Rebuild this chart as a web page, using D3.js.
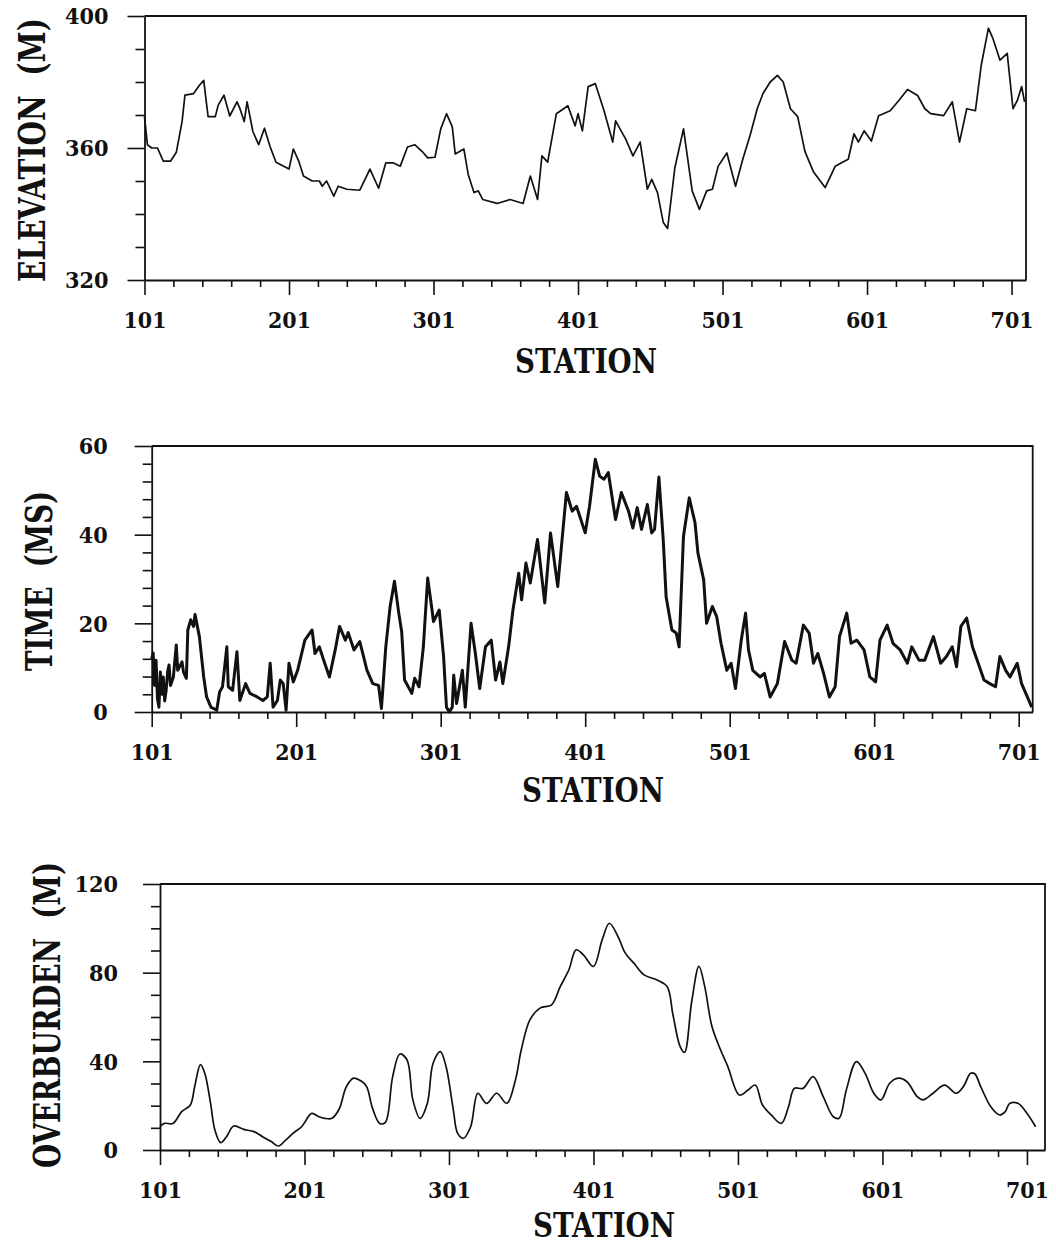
<!DOCTYPE html>
<html>
<head>
<meta charset="utf-8">
<script src="https://cdn.jsdelivr.net/npm/d3@7"></script>
<style>
  body { margin: 0; background: #fff; }
  svg { display: block; font-family: "DejaVu Serif", serif; font-weight: bold; }
</style>
</head>
<body>
<svg id="chart"></svg>
<script>
// ---- data ----
const stationTicks = [101, 201, 301, 401, 501, 601, 701];
const stationMinor = [121, 141, 161, 181, 221, 241, 261, 281, 321, 341, 361, 381,
  421, 441, 461, 481, 521, 541, 561, 581, 621, 641, 661, 681];

const elevTicks = [320, 360, 400];
const elevMinor = [330, 340, 350, 370, 380, 390];
const timeTicks = [0, 20, 40, 60];
const timeMinor = [4, 8, 12, 16, 24, 28, 32, 36, 44, 48, 52, 56];
const overTicks = [0, 40, 80, 120];
const overMinor = [10, 20, 30, 50, 60, 70, 90, 100, 110];

const elevStation = [101, 103, 106, 110, 114, 119, 123, 127, 129, 135, 139, 142, 145, 150, 152, 156, 160, 165, 167, 170,
  172, 176, 180, 184, 188, 192, 196, 201, 204, 208, 211, 217, 222, 224, 227, 232, 235, 241, 250, 257,
  263, 268, 273, 278, 283, 288, 293, 297, 302, 306, 310, 314, 316, 322, 325, 329, 332, 335, 345, 354,
  363, 368, 373, 376, 380, 386, 394, 399, 401, 404, 408, 413, 419, 425, 427, 434, 439, 444, 449, 452,
  456, 460, 463, 468, 474, 480, 485, 490, 494, 498, 504, 510, 515, 520, 525, 529, 534, 539, 543, 548,
  553, 558, 564, 572, 579, 584, 588, 592, 595, 599, 604, 609, 617, 623, 629, 636, 641, 645, 654, 660,
  665, 670, 676, 680, 685, 688, 693, 698, 702, 705, 708, 710];
const elevValue = [369.5, 361, 360, 360, 356, 356, 358.7, 368, 376, 376.5, 379, 380.5, 369.5, 369.5, 373, 376, 369.7, 374, 372, 368,
  374, 365, 361, 366, 360.3, 355.7, 354.8, 353.6, 359.7, 355.7, 351.5, 350, 350, 348.4, 350, 345.4, 348.4, 347.5, 347.2, 353.6,
  347.8, 355.5, 355.5, 354.5, 360.3, 361, 359, 357, 357.2, 365.8, 370.4, 366.4, 358.2, 359.7, 352, 346.5, 347, 344.4, 343.2, 344.4,
  343.2, 351.5, 344.4, 357.6, 355.7, 370.4, 372.8, 366.7, 370.4, 365.2, 378.6, 379.5, 371.3, 361.8, 368.2, 362.7, 357.6, 361.8, 347.5, 350.5,
  346.5, 337.4, 335.6, 354, 365.8, 347, 341.4, 347, 347.5, 354.5, 358.5, 348.4, 356.6, 363.7, 371.9, 376.5, 380, 382, 380, 371.9,
  369.5, 359, 352.7, 348, 354.5, 355.7, 356.6, 364.3, 361.8, 365.2, 362.1, 369.8, 371.3, 374.4, 377.7, 375.9, 371.9, 370.4, 369.8, 374,
  361.8, 371.9, 371.3, 385, 396.3, 393.3, 386.6, 388.7, 371.9, 374.4, 378.6, 374];

const timeStation = [101, 102, 103, 104, 105, 106, 107, 108, 109, 110, 111, 112, 113, 114, 116, 118, 119, 122, 123, 125,
  126, 128, 130, 131, 134, 137, 139, 142, 146, 148, 150, 153, 154, 157, 160, 162, 166, 169, 174, 178,
  181, 183, 185, 188, 190, 192, 194, 196, 199, 202, 207, 212, 214, 217, 220, 224, 228, 231, 235, 237,
  241, 245, 250, 254, 258, 260, 263, 266, 269, 272, 274, 276, 281, 283, 286, 289, 292, 295, 296, 300,
  303, 305, 307, 309, 310, 312, 316, 318, 322, 325, 328, 332, 336, 339, 342, 344, 348, 351, 355, 357,
  360, 363, 368, 373, 377, 382, 385, 388, 392, 395, 401, 404, 408, 411, 414, 417, 422, 426, 431, 434,
  437, 440, 444, 447, 449, 452, 455, 457, 461, 464, 466, 469, 473, 477, 479, 483, 485, 489, 492, 495,
  499, 502, 505, 509, 512, 514, 517, 522, 525, 529, 534, 539, 544, 547, 552, 556, 559, 562, 566, 570,
  574, 577, 582, 585, 589, 594, 598, 602, 605, 610, 614, 619, 624, 627, 632, 636, 642, 647, 651, 655,
  658, 661, 665, 669, 673, 677, 681, 685, 688, 692, 695, 700, 703, 707, 710];
const timeValue = [12, 13.3, 6, 11.7, 3, 1.1, 9, 4, 7.9, 2.5, 4.9, 9, 10.6, 6, 7.9, 15.1, 9.4, 11.3, 9, 7.6,
  18.5, 20.8, 19.3, 22, 17, 7.9, 3.4, 1.1, 0.4, 4.5, 5.7, 14.7, 5.7, 4.9, 13.6, 2.6, 6.4, 4.2, 3.4, 2.6,
  3.4, 11, 1.1, 2.6, 7.2, 6.4, 0.4, 11, 6.8, 9.4, 16.2, 18.5, 13.2, 14.7, 11.7, 7.9, 14, 19.3, 16.2, 17.9,
  14, 15.9, 9.4, 6.4, 6, 0.8, 14.7, 23.8, 29.5, 22.3, 18.1, 7.2, 4.2, 7.6, 5.7, 14.7, 30.2, 23, 20.4, 23,
  12.5, 1.1, 0, 1.1, 8.3, 1.9, 9.4, 1.1, 20, 13.2, 5.3, 14.7, 16.2, 7.2, 11.3, 6.4, 14.7, 23, 31.3, 25.3,
  33.6, 29.1, 38.9, 24.6, 40.4, 28.3, 38.9, 49.5, 45.3, 46.4, 40.4, 46.4, 57, 53.2, 52.5, 54, 43.4, 49.5, 45.3, 41.5,
  46.1, 41.2, 46.8, 40.4, 41.2, 53, 38.9, 26, 18.5, 17.8, 14.7, 39.6, 48.3, 42.7, 35.9, 29.8, 20, 23.8, 21.5, 15.5,
  9.4, 11, 5.3, 16.2, 22.3, 14, 9.4, 7.9, 8.7, 3.4, 6.4, 15.9, 11.7, 11, 19.6, 17.8, 11, 13.2, 8.7, 3.4,
  5.7, 17, 22.3, 15.5, 16.2, 14, 7.9, 6.8, 16.2, 19.6, 15.5, 14, 11, 14.7, 11.7, 11.7, 17, 11, 12.5, 14.7,
  10.2, 19.3, 21.2, 14.7, 11, 7.2, 6.4, 5.7, 12.5, 9.4, 7.9, 11, 6.4, 3.4, 1.1];

const overStation = [101, 104, 110, 116, 122, 125, 129, 132, 136, 139, 143, 147, 152, 159, 166, 172, 178, 183, 188, 193,
  199, 206, 211, 215, 220, 225, 230, 235, 240, 244, 248, 253, 257, 262, 267, 272, 276, 281, 286, 290,
  295, 299, 304, 307, 311, 316, 321, 327, 334, 341, 347, 351, 357, 364, 372, 378, 384, 389, 394, 401,
  407, 412, 418, 423, 429, 436, 445, 452, 456, 461, 464, 469, 474, 478, 483, 489, 494, 502, 508, 513,
  518, 524, 531, 536, 540, 546, 553, 560, 567, 571, 576, 583, 589, 595, 600, 606, 612, 618, 625, 629,
  636, 644, 652, 657, 662, 665, 669, 676, 682, 686, 689, 695, 701, 707];
const overValue = [10.5, 12, 12, 17.3, 20.3, 28.6, 38.5, 34.6, 21, 9, 3.3, 6, 10.8, 9.3, 8.3, 6, 3.8, 1.8, 4.5, 7.5,
  10.5, 16.5, 15, 14.3, 14.3, 18.5, 28.6, 32.4, 31.2, 28.6, 19, 12, 12.5, 33, 43.3, 40.6, 22.6, 14.3, 21, 39.1,
  44.4, 37.6, 18.1, 7.5, 5.3, 10.5, 25.6, 21, 25.6, 21, 31.6, 45.1, 58.7, 64, 65.5, 73.7, 81.3, 90.3, 88, 82.8,
  94.8, 102.3, 96.3, 88.8, 84.3, 79, 76.7, 73.7, 61, 46.6, 44, 67, 82.8, 73.7, 55.7, 45.1, 37.6, 24.8, 27.1, 29.3,
  20.3, 15.8, 12, 19.5, 27.8, 27.8, 33.1, 24.1, 15, 14.3, 27.1, 39.9, 34.6, 25.6, 22.6, 30.1, 32.4, 30.8, 24.1, 22.6,
  25.6, 29.3, 25.6, 28.6, 34.6, 34.3, 28.6, 19.5, 15.8, 17.3, 21, 21, 16.6, 10.5];

// ---- layout ----
const svg = d3.select("#chart").attr("width", 1056).attr("height", 1246);
const ink = "#111";

// squeeze a text horizontally (in its own frame) to a target width
function fitText(sel, target, base) {
  const w = sel.node().getComputedTextLength();
  const k = Math.min(1, target / w);
  sel.attr("transform", `${base} scale(${k},1)`);
}

const panels = [
  { title: "ELEVATION  (M)", st: elevStation, val: elevValue, yTicks: elevTicks, yMinor: elevMinor,
    yDom: [320, 400], left: 144.5, right: 1026, top: 16, bottom: 280, xEnd: 711,
    labelGap: 36, titleX: 45, titleY: 150, titleLen: 264, stationX: 586, stationY: 373,
    curve: d3.curveLinear, lw: 1.7 },
  { title: "TIME  (MS)", st: timeStation, val: timeValue, yTicks: timeTicks, yMinor: timeMinor,
    yDom: [0, 60], left: 151.7, right: 1032.7, top: 446, bottom: 712, xEnd: 710.7,
    labelGap: 44, titleX: 52, titleY: 581, titleLen: 180, stationX: 593, stationY: 802,
    curve: d3.curveLinear, lw: 3 },
  { title: "OVERBURDEN  (M)", st: overStation, val: overValue, yTicks: overTicks, yMinor: overMinor,
    yDom: [0, 120], left: 160, right: 1045, top: 884, bottom: 1150, xEnd: 713.5,
    labelGap: 42, titleX: 60, titleY: 1015, titleLen: 306, stationX: 604, stationY: 1237,
    curve: d3.curveCatmullRom, lw: 1.7 }
];

panels.forEach(p => {
  const x = d3.scaleLinear().domain([101, p.xEnd]).range([p.left, p.right]);
  const y = d3.scaleLinear().domain(p.yDom).range([p.bottom, p.top]);
  const g = svg.append("g");

  // minor ticks
  g.append("g")
    .attr("transform", `translate(0,${p.bottom})`)
    .call(d3.axisBottom(x).tickValues(stationMinor).tickSize(7).tickFormat(""))
    .call(a => a.select(".domain").remove());
  g.append("g")
    .attr("transform", `translate(${p.left},0)`)
    .call(d3.axisLeft(y).tickValues(p.yMinor).tickSize(9).tickFormat(""))
    .call(a => a.select(".domain").remove());

  // major axes
  const xa = g.append("g")
    .attr("transform", `translate(0,${p.bottom})`)
    .call(d3.axisBottom(x).tickValues(stationTicks).tickSize(15).tickSizeOuter(0).tickFormat(d3.format("d")));
  const ya = g.append("g")
    .attr("transform", `translate(${p.left},0)`)
    .call(d3.axisLeft(y).tickValues(p.yTicks).tickSize(17).tickSizeOuter(0).tickFormat(d3.format("d")));

  g.selectAll(".tick line").attr("stroke", ink).attr("stroke-width", 1.6);
  g.selectAll(".domain").attr("stroke", ink).attr("stroke-width", 1.8);
  g.selectAll(".tick text")
    .attr("fill", ink)
    .style("font-family", '"DejaVu Serif", serif')
    .style("font-weight", "bold")
    .style("font-size", "22px");

  xa.selectAll("text").attr("y", 48).attr("dy", null)
    .attr("textLength", 43).attr("lengthAdjust", "spacingAndGlyphs");
  ya.selectAll("text").attr("x", -p.labelGap).attr("dy", "0.36em")
    .attr("textLength", d => String(d).length * 14.5).attr("lengthAdjust", "spacingAndGlyphs");

  // top and right border
  g.append("path")
    .attr("d", `M${p.left},${p.top}H${p.right}V${p.bottom}`)
    .attr("fill", "none").attr("stroke", ink).attr("stroke-width", 1.8);

  // data line
  const line = d3.line().x((d, i) => x(p.st[i])).y(d => y(d)).curve(p.curve);
  g.append("path")
    .datum(p.val)
    .attr("d", line)
    .attr("fill", "none")
    .attr("stroke", ink)
    .attr("stroke-width", p.lw)
    .attr("stroke-linejoin", "round");

  // axis titles
  const yt = g.append("text")
    .attr("text-anchor", "middle")
    .attr("fill", ink)
    .style("font-size", "37px")
    .style("white-space", "pre")
    .text(p.title);
  fitText(yt, p.titleLen, `translate(${p.titleX},${p.titleY}) rotate(-90)`);

  const xt = g.append("text")
    .attr("text-anchor", "middle")
    .attr("fill", ink)
    .style("font-size", "33px")
    .text("STATION");
  fitText(xt, 142, `translate(${p.stationX},${p.stationY})`);
});
</script>
</body>
</html>
